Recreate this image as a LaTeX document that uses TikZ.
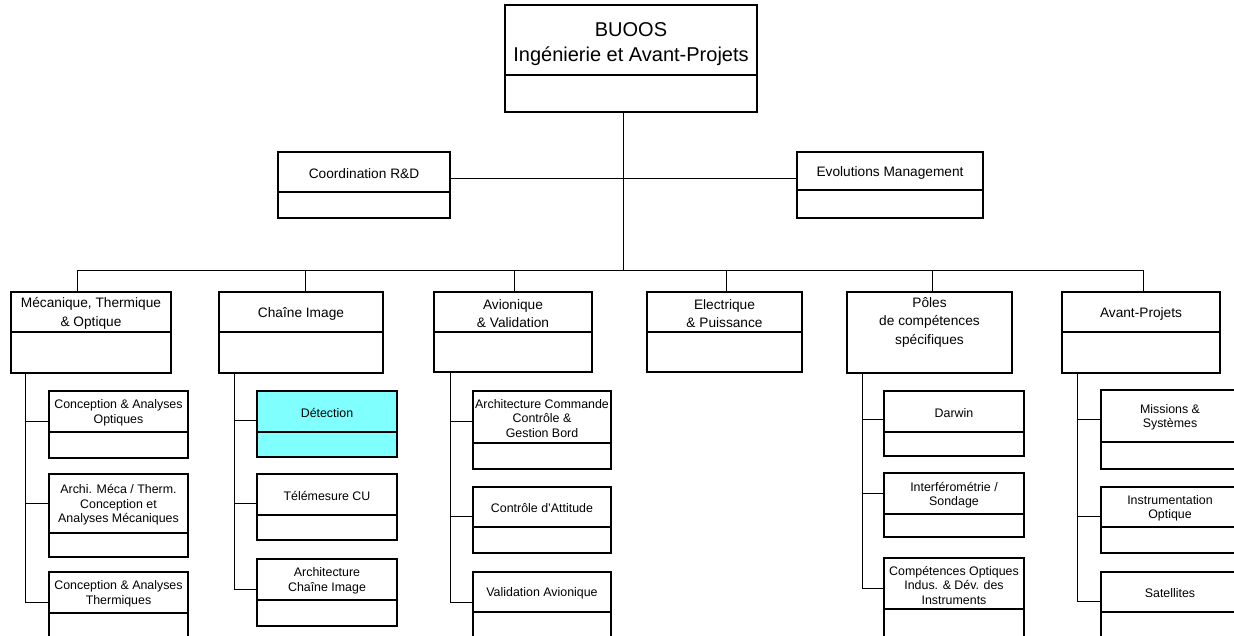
\documentclass[tikz,border=0pt]{standalone}
\usepackage{fontspec}
\setmainfont{Liberation Sans}
\definecolor{detcyan}{HTML}{80FFFF}
\newcommand\obox[9][]{%
  \node[boxst,#1,minimum width={#5-#3},minimum height={#7-#4}] (#2) at ({(#3+#5)/2},{(#4+#7)/2}) {};
  \draw[divline] (#2.west |- 0,#6) -- (#2.east |- 0,#6);
  \node[#8,align=center,inner sep=0pt] (#2-t) at ({(#3+#5)/2},{(#4+#6)/2+1.5}) {#9};
}
\begin{document}
\begin{tikzpicture}[x=1pt,y=-1pt,
  boxst/.style={draw=black,line width=1.5pt,fill=white,inner sep=0pt,outer sep=0pt},
  divline/.style={draw=black,line width=1.5pt},
  conn/.style={draw=black,line width=1pt},
  big/.style={font=\fontsize{20}{25}\selectfont},
  mid/.style={font=\fontsize{13.7}{18.5}\selectfont},
  small/.style={font=\fontsize{12.4}{14.5}\selectfont}]
\clip (0,0) rectangle (1234,635);
\fill[white] (0,0) rectangle (1234,635);

% boxes
\node[boxst,minimum width=252,minimum height=107] (top) at (631,58.5) {};
\draw[divline] (top.west |- 0,75) -- (top.east |- 0,75);
\node[big,align=center,inner sep=0pt] (top-t) at (631,44) {BUOOS\\Ingénierie et Avant-Projets};
\obox{coord}{278}{152}{450}{192}{218}{mid}{Coordination R\&D}
\obox{evol}{797}{152}{983}{190}{218}{mid}{Evolutions Management}

\obox{mtho}{11}{292}{171}{332}{373}{mid}{Mécanique, Thermique\\\& Optique}
\obox{chim}{219}{292}{383}{332}{373}{mid}{Chaîne Image}
\obox{avio}{434}{292}{592}{332}{372}{mid}{Avionique\\\& Validation}
\obox{elec}{647}{292}{802}{332}{372}{mid}{Electrique\\\& Puissance}
\node[boxst,minimum width=165,minimum height=81] (poles) at (929.5,332.5) {};
\node[mid,align=center,inner sep=0pt] (poles-t) at (929.5,322) {Pôles\\de compétences\\spécifiques};
\obox{avpj}{1062}{292}{1220}{332}{373}{mid}{Avant-Projets}

\obox{c11}{49}{391}{188}{432}{458}{small}{Conception \& Analyses\\Optiques}
\obox{c12}{49}{474}{188}{533}{557}{small}{Archi. Méca / Therm.\\Conception et\\Analyses Mécaniques}
\obox{c13}{49}{572}{188}{613}{660}{small}{Conception \& Analyses\\Thermiques}

\obox[fill=detcyan]{c21}{257}{391}{397}{432}{457}{small}{Détection}
\obox{c22}{257}{474}{397}{515}{540}{small}{Télémesure CU}
\obox{c23}{257}{559}{397}{600}{626}{small}{Architecture\\Chaîne Image}

\obox{c31}{473}{391}{611}{443}{469}{small}{Architecture Commande\\Contrôle \&\\Gestion Bord}
\obox{c32}{473}{487}{611}{527}{553}{small}{Contrôle d'Attitude}
\obox{c33}{473}{572}{611}{612}{660}{small}{Validation Avionique}

\obox{c51}{884}{391}{1024}{432}{456}{small}{Darwin}
\obox{c52}{884}{473}{1024}{514}{537}{small}{Interférométrie /\\Sondage}
\obox{c53}{884}{558}{1024}{609}{660}{small}{Compétences Optiques\\Indus. \& Dév. des\\Instruments}

\obox{c61}{1101}{390}{1239}{442}{469}{small}{Missions \&\\Systèmes}
\obox{c62}{1101}{487}{1239}{527}{553}{small}{Instrumentation\\Optique}
\obox{c63}{1101}{572}{1239}{612}{660}{small}{Satellites}

% connectors
\coordinate (jtop) at (623,178);
\coordinate (bus) at (623,270);
\draw[conn] (jtop |- top.south) -- (bus);
\draw[conn] (coord.east |- jtop) -- (evol.west |- jtop);

\coordinate (d1) at (77,270);
\coordinate (d2) at (305,270);
\coordinate (d3) at (514,270);
\coordinate (d4) at (726,270);
\coordinate (d5) at (932,270);
\coordinate (d6) at (1143,270);
\draw[conn] (d1) -- (d6);
\draw[conn] (d1) -- (d1 |- mtho.north);
\draw[conn] (d2) -- (d2 |- chim.north);
\draw[conn] (d3) -- (d3 |- avio.north);
\draw[conn] (d4) -- (d4 |- elec.north);
\draw[conn] (d5) -- (d5 |- poles.north);
\draw[conn] (d6) -- (d6 |- avpj.north);

% column 1
\coordinate (k1) at (25,0);
\coordinate (b11) at (49,421);
\coordinate (b12) at (49,503);
\coordinate (b13) at (49,602);
\draw[conn] (k1 |- mtho.south) -- (k1 |- b13) -- (b13);
\draw[conn] (k1 |- b11) -- (b11);
\draw[conn] (k1 |- b12) -- (b12);
% column 2
\coordinate (k2) at (234,0);
\coordinate (b21) at (257,420);
\coordinate (b22) at (257,503);
\coordinate (b23) at (257,589);
\draw[conn] (k2 |- chim.south) -- (k2 |- b23) -- (b23);
\draw[conn] (k2 |- b21) -- (b21);
\draw[conn] (k2 |- b22) -- (b22);
% column 3
\coordinate (k3) at (450,0);
\coordinate (b31) at (473,421);
\coordinate (b32) at (473,516);
\coordinate (b33) at (473,602);
\draw[conn] (k3 |- avio.south) -- (k3 |- b33) -- (b33);
\draw[conn] (k3 |- b31) -- (b31);
\draw[conn] (k3 |- b32) -- (b32);
% column 5
\coordinate (k5) at (862,0);
\coordinate (b51) at (884,419);
\coordinate (b52) at (884,493);
\coordinate (b53) at (884,588);
\draw[conn] (k5 |- poles.south) -- (k5 |- b53) -- (b53);
\draw[conn] (k5 |- b51) -- (b51);
\draw[conn] (k5 |- b52) -- (b52);
% column 6
\coordinate (k6) at (1077,0);
\coordinate (b61) at (1101,419);
\coordinate (b62) at (1101,516);
\coordinate (b63) at (1101,601);
\draw[conn] (k6 |- avpj.south) -- (k6 |- b63) -- (b63);
\draw[conn] (k6 |- b61) -- (b61);
\draw[conn] (k6 |- b62) -- (b62);
\end{tikzpicture}
\end{document}
